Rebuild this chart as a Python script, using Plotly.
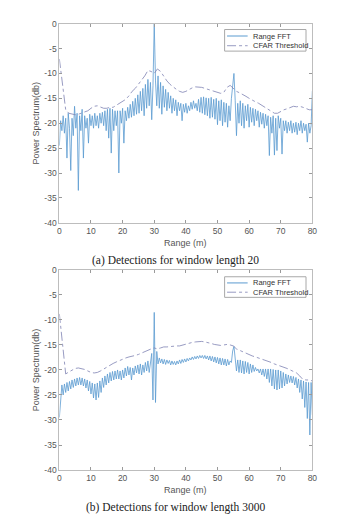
import plotly.graph_objects as go

W, H = 362, 528

# ---------------- data ----------------
fft_step = 0.4  # metres between FFT bins
thr_step = 1.0  # metres between threshold samples

fft_win20 = [
    -24.5, -19.5, -21.5, -18.5, -22.0, -19.0, -27.0, -18.0, -21.0, -29.5,
    -19.0, -22.5, -16.6, -21.0, -18.0, -33.5, -18.5, -21.5, -17.2, -27.0,
    -18.5, -21.0, -19.0, -24.0, -18.2, -20.5, -18.5, -21.0, -18.0, -20.5,
    -18.5, -21.0, -18.0, -20.0, -17.8, -20.5, -17.5, -21.5, -17.2, -23.0,
    -17.0, -26.0, -17.2, -21.5, -17.5, -20.5, -17.5, -30.0, -17.5, -20.0,
    -17.0, -24.0, -17.5, -19.5, -16.8, -19.0, -16.2, -18.8, -15.6, -18.5,
    -15.0, -18.2, -14.3, -18.0, -13.6, -17.5, -13.0, -18.5, -12.2, -17.0,
    -11.2, -16.5, -11.8, -19.3, -12.5, 0.0, -11.5, -16.5, -10.5, -17.0,
    -11.8, -18.2, -12.5, -16.8, -13.2, -17.5, -13.8, -17.0, -14.5, -18.0,
    -15.0, -17.5, -15.3, -18.5, -15.8, -17.5, -16.0, -19.5, -16.2, -17.8,
    -16.0, -18.0, -16.5, -17.5, -15.8, -17.2, -15.5, -17.0, -16.0, -17.5,
    -15.2, -17.8, -14.8, -18.0, -14.7, -18.3, -14.9, -18.5, -15.0, -19.0,
    -14.8, -18.8, -15.2, -19.2, -15.0, -20.3, -15.5, -19.5, -15.3, -20.5,
    -15.8, -19.8, -16.0, -20.8, -16.5, -19.5, -15.0, -13.0, -10.0, -15.5,
    -22.5, -16.0, -20.0, -15.5, -20.5, -16.0, -21.0, -16.5, -19.5, -16.2,
    -20.8, -16.8, -19.8, -17.0, -20.5, -17.2, -19.5, -17.5, -20.8, -17.8,
    -20.2, -18.0, -21.0, -18.2, -20.5, -18.5, -26.5, -18.8, -22.0, -18.5,
    -26.4, -19.0, -25.5, -18.5, -21.0, -19.0, -26.2, -19.5, -21.5, -19.5,
    -22.0, -19.8, -21.5, -19.5, -22.0, -20.0, -21.8, -19.8, -22.3, -20.0,
    -21.5, -19.5, -22.0, -20.0, -21.5, -20.2, -23.8, -20.0, -22.0, -20.5,
    -13.5,
]

thr_win20 = [
    -7.1, -12.5, -17.3, -18.0, -18.2, -18.3, -18.2, -18.0, -17.8, -17.5,
    -17.0, -16.6, -16.5, -16.7, -17.0, -17.0, -16.8, -16.8, -16.4, -16.0,
    -15.6, -15.2, -14.5, -13.6, -13.0, -12.2, -11.4, -10.5, -9.4, -9.6,
    -10.0, -9.1, -9.6, -10.6, -11.5, -12.2, -12.8, -13.2, -13.6, -13.8,
    -13.6, -13.2, -12.9, -12.7, -12.7, -12.8, -13.0, -13.2, -13.3, -13.5,
    -13.7, -14.0, -13.8, -12.8, -12.4, -13.0, -13.6, -13.9, -14.2, -14.6,
    -15.0, -15.4, -15.7, -16.0, -16.4, -16.8, -17.2, -17.6, -18.0, -18.0,
    -17.6, -17.3, -17.1, -16.8, -16.6, -16.7, -16.6, -16.8, -17.0, -17.3,
    -17.3,
]

fft_win3000 = [
    -29.5, -25.5, -23.0, -25.0, -22.8, -24.5, -22.5, -24.2, -22.3, -23.8,
    -22.0, -23.5, -21.8, -23.2, -21.6, -23.0, -21.5, -23.0, -21.6, -23.2,
    -21.8, -23.6, -22.0, -24.2, -22.3, -24.8, -22.6, -25.6, -22.8, -26.0,
    -22.6, -25.5, -22.2, -24.5, -21.6, -23.5, -21.2, -23.0, -20.8, -22.6,
    -20.5, -22.2, -20.3, -22.0, -20.2, -21.8, -20.0, -21.8, -20.2, -22.0,
    -20.0, -21.6, -19.6, -21.2, -19.3, -21.0, -19.5, -22.0, -19.6, -21.0,
    -19.2, -20.6, -19.0, -20.8, -18.8, -21.0, -19.0, -20.5, -18.5, -20.2,
    -18.2, -20.5, -18.0, -16.7, -26.0, -8.5, -26.5, -16.3, -18.8, -17.6,
    -18.6, -17.8, -18.8, -17.9, -18.9, -18.0, -18.7, -18.1, -19.0, -18.2,
    -18.9, -18.3, -19.0, -18.2, -18.8, -18.0, -18.7, -17.9, -18.5, -17.8,
    -18.4, -17.7, -18.2, -17.6, -18.0, -17.4, -17.9, -17.3, -17.8, -17.2,
    -17.7, -17.1, -17.6, -17.1, -17.7, -17.1, -17.8, -17.2, -18.0, -17.2,
    -18.2, -17.3, -18.4, -17.4, -18.6, -17.5, -18.8, -17.6, -19.0, -17.7,
    -19.0, -17.8, -19.2, -17.9, -19.0, -18.2, -18.5, -16.2, -15.3, -17.8,
    -20.2, -18.0, -20.5, -18.0, -20.6, -18.2, -20.8, -18.3, -20.5, -18.5,
    -20.8, -18.8, -20.5, -19.0, -20.3, -19.5, -20.2, -19.8, -20.6, -19.8,
    -21.0, -19.8, -21.3, -19.8, -21.8, -19.8, -22.5, -19.8, -23.2, -19.9,
    -23.8, -20.0, -24.0, -20.0, -23.8, -20.2, -23.6, -20.5, -23.2, -20.8,
    -22.8, -21.0, -22.5, -21.2, -22.6, -21.3, -23.0, -21.5, -23.6, -21.8,
    -24.5, -22.0, -25.8, -22.2, -27.5, -22.4, -29.7, -22.5, -33.0, -22.5,
    -29.0,
]

thr_win3000 = [
    -8.8, -14.8, -20.8, -20.4, -20.0, -19.7, -19.6, -19.7, -19.9, -20.2,
    -20.5, -20.6, -20.5, -20.2, -19.8, -19.4, -19.0, -18.7, -18.4, -18.1,
    -17.8, -17.6, -17.4, -17.3, -17.1, -16.9, -16.6, -16.3, -16.0, -15.8,
    -15.6, -15.8, -15.6, -15.4, -15.4, -15.3, -15.3, -15.2, -15.2, -15.0,
    -14.8, -14.7, -14.5, -14.4, -14.3, -14.3, -14.4, -14.5, -14.7, -14.9,
    -15.0, -15.1, -15.0, -14.9, -15.0, -15.2, -15.8, -16.1, -16.4, -16.7,
    -17.0, -17.2, -17.4, -17.6, -17.8, -18.1, -18.3, -18.5, -18.8, -19.0,
    -19.3, -19.5, -19.7, -20.0, -20.3, -20.6, -21.2, -21.9, -22.0, -22.0,
    -22.2,
]

x_ticks = [0, 10, 20, 30, 40, 50, 60, 70, 80]
y_ticks = [0, -5, -10, -15, -20, -25, -30, -35, -40]
y_tick_labels = ["0", "-5", "-10", "-15", "-20", "-25", "-30", "-35", "-40"]

series_names = ["Range FFT", "CFAR Threshold"]
captions = ["(a) Detections for window length 20",
            "(b) Detections for window length 3000"]
x_title = "Range (m)"
y_title = "Power Spectrum(db)"

# ---------------- styling ----------------
FFT_COLOR = "#5a9bd0"
THR_COLOR = "#7d82b3"
AX_COLOR = "#bdbdbd"
TXT_COLOR = "#555555"
SANS = "Liberation Sans, Arial, sans-serif"
SERIF = "Liberation Serif, Times New Roman, serif"


def px_x(p):
    return p / W


def px_y(p):
    return 1 - p / H


x_dom = [px_x(58.5), px_x(316.5)]
panels = [
    dict(top=19, bot=222, fft=fft_win20, thr=thr_win20, cap_y=260,
         xlab_y=243, leg=(227, 25, 310, 47)),
    dict(top=270, bot=474, fft=fft_win3000, thr=thr_win3000, cap_y=512,
         xlab_y=494, leg=(227, 277, 310, 298)),
]

fig = go.Figure()
shapes = []
annotations = []

for i, p in enumerate(panels):
    k = "" if i == 0 else str(i + 1)
    xa, ya = "x" + k, "y" + k
    fx = [j * fft_step for j in range(len(p["fft"]))]
    tx = [j * thr_step for j in range(len(p["thr"]))]
    fig.add_trace(go.Scatter(x=fx, y=p["fft"], mode="lines", name=series_names[0],
                             line=dict(color=FFT_COLOR, width=0.8),
                             xaxis=xa, yaxis=ya, showlegend=False))
    fig.add_trace(go.Scatter(x=tx, y=p["thr"], mode="lines", name=series_names[1],
                             line=dict(color=THR_COLOR, width=0.8, dash="dashdot"),
                             xaxis=xa, yaxis=ya, showlegend=False))

    axis_common = dict(showgrid=False, zeroline=False, showline=True, linecolor=AX_COLOR,
                       linewidth=1, mirror="ticks", ticks="inside", ticklen=3,
                       tickcolor="#9a9a9a", tickwidth=1,
                       tickfont=dict(family=SANS, size=8.5, color=TXT_COLOR))
    fig.update_layout({
        "xaxis" + k: dict(domain=x_dom, range=[0, 80], tickvals=x_ticks,
                          anchor=ya, **axis_common),
        "yaxis" + k: dict(domain=[px_y(p["bot"]), px_y(p["top"])], range=[-40, 0],
                          tickvals=y_ticks, ticktext=y_tick_labels,
                          anchor=xa, **axis_common),
    })

    # axis titles and caption
    annotations.append(dict(x=px_x(187.5), y=px_y(p["xlab_y"]), xref="paper", yref="paper",
                            text=x_title, showarrow=False, xanchor="center", yanchor="middle",
                            font=dict(family=SANS, size=9, color=TXT_COLOR)))
    annotations.append(dict(x=px_x(35), y=px_y((p["top"] + p["bot"]) / 2), xref="paper",
                            yref="paper", text=y_title, showarrow=False, textangle=-90,
                            xanchor="center", yanchor="middle",
                            font=dict(family=SANS, size=9, color=TXT_COLOR)))
    annotations.append(dict(x=px_x(176.5), y=px_y(p["cap_y"]), xref="paper", yref="paper",
                            text=captions[i], showarrow=False, xanchor="center",
                            yanchor="middle",
                            font=dict(family=SERIF, size=11.5, color="#222222")))

    # legend box drawn by hand (MATLAB style)
    x0, y0, x1, y1 = p["leg"]
    shapes.append(dict(type="rect", xref="paper", yref="paper",
                       x0=px_x(x0), x1=px_x(x1), y0=px_y(y1), y1=px_y(y0),
                       line=dict(color="#a8a8a8", width=1), fillcolor="white"))
    rows = [y0 + (y1 - y0) * 0.3, y0 + (y1 - y0) * 0.75]
    styles = [dict(color=FFT_COLOR, width=1), dict(color=THR_COLOR, width=0.8, dash="dashdot")]
    for r, st, name in zip(rows, styles, series_names):
        shapes.append(dict(type="line", xref="paper", yref="paper",
                           x0=px_x(x0 + 2.5), x1=px_x(x0 + 23.5), y0=px_y(r), y1=px_y(r),
                           line=st))
        annotations.append(dict(x=px_x(x0 + 26.5), y=px_y(r), xref="paper", yref="paper",
                                text=name, showarrow=False, xanchor="left", yanchor="middle",
                                font=dict(family=SANS, size=7.5, color="#333333")))

fig.update_layout(width=W, height=H, margin=dict(l=0, r=0, t=0, b=0),
                  paper_bgcolor="white", plot_bgcolor="white",
                  shapes=shapes, annotations=annotations, showlegend=False)

fig.write_html("out.html", config={"displayModeBar": False},
               post_script="document.body.style.margin='0px';"
                           "document.body.style.overflow='hidden';")
